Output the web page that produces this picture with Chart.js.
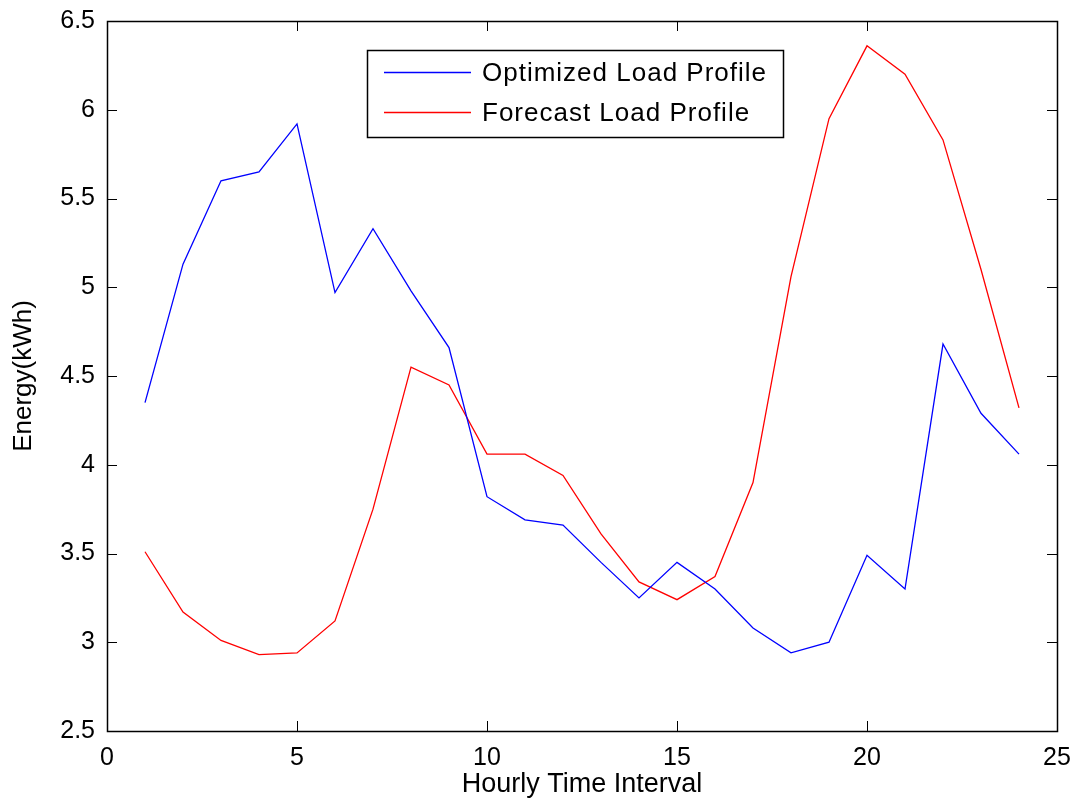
<!DOCTYPE html>
<html>
<head>
<meta charset="utf-8">
<script src="https://cdn.jsdelivr.net/npm/chart.js@4/dist/chart.umd.min.js"></script>
<style>
  html, body { margin: 0; padding: 0; background: #ffffff; }
  canvas { display: block; }
</style>
</head>
<body>
<canvas id="loadChart" width="1085" height="805"></canvas>
<script>
// Hourly intervals and energy per interval (kWh)
const hours = [1, 2, 3, 4, 5, 6, 7, 8, 9, 10, 11, 12, 13, 14, 15, 16, 17, 18, 19, 20, 21, 22, 23, 24];
const optimizedLoad = [4.35, 5.13, 5.60, 5.65, 5.92, 4.97, 5.33, 4.98, 4.66, 3.82, 3.69, 3.66,
                       3.45, 3.25, 3.45, 3.30, 3.08, 2.94, 3.00, 3.49, 3.30, 4.68, 4.29, 4.06];
const forecastLoad  = [3.51, 3.17, 3.01, 2.93, 2.94, 3.12, 3.75, 4.55, 4.45, 4.06, 4.06, 3.94,
                       3.61, 3.34, 3.24, 3.37, 3.90, 5.06, 5.95, 6.36, 6.20, 5.83, 5.10, 4.32];
const seriesNames = ['Optimized Load Profile', 'Forecast Load Profile'];
const seriesColors = ['#0000ff', '#ff0000'];
const xTickValues = [0, 5, 10, 15, 20, 25];
const yTickValues = [2.5, 3, 3.5, 4, 4.5, 5, 5.5, 6, 6.5];
const xTitle = 'Hourly Time Interval';
const yTitle = 'Energy(kWh)';

const FONT = 'Liberation Sans, Arial, Helvetica, sans-serif';

function toPoints(values) {
  return hours.map((h, i) => ({ x: h, y: values[i] }));
}

// Boxed axes with inward tick marks on all four sides, plus a framed legend
const boxedAxes = {
  id: 'boxedAxes',
  afterDatasetsDraw(chart) {
    const { ctx, chartArea: a, scales: { x, y } } = chart;
    const tick = 10;
    ctx.save();
    ctx.strokeStyle = '#000000';
    ctx.lineWidth = 1;
    ctx.beginPath();
    xTickValues.forEach(v => {
      const px = Math.round(x.getPixelForValue(v)) + 0.5;
      ctx.moveTo(px, a.bottom); ctx.lineTo(px, a.bottom - tick);
      ctx.moveTo(px, a.top);    ctx.lineTo(px, a.top + tick);
    });
    yTickValues.forEach(v => {
      const py = Math.round(y.getPixelForValue(v)) + 0.5;
      ctx.moveTo(a.left, py);  ctx.lineTo(a.left + tick, py);
      ctx.moveTo(a.right, py); ctx.lineTo(a.right - tick, py);
    });
    ctx.stroke();
    ctx.lineWidth = 1.5;
    ctx.strokeRect(Math.round(a.left) + 0.5, Math.round(a.top) + 0.5,
                   Math.round(a.right - a.left), Math.round(a.bottom - a.top));

    // legend
    const lx = 367, ly = 50, lw = 416, lh = 87;
    ctx.fillStyle = '#ffffff';
    ctx.fillRect(lx, ly, lw, lh);
    ctx.lineWidth = 1.5;
    ctx.strokeRect(lx + 0.5, ly + 0.5, lw, lh);
    ctx.font = '26px ' + FONT;
    ctx.letterSpacing = '1px';
    ctx.textBaseline = 'middle';
    ctx.textAlign = 'left';
    chart.data.datasets.forEach((ds, i) => {
      const rowY = 72 + i * 40;
      ctx.strokeStyle = ds.borderColor;
      ctx.lineWidth = 1.3;
      ctx.beginPath();
      ctx.moveTo(384, rowY + 0.5);
      ctx.lineTo(471, rowY + 0.5);
      ctx.stroke();
      ctx.fillStyle = '#000000';
      ctx.fillText(ds.label, 482, rowY + 2);
    });
    ctx.restore();
  }
};

new Chart(document.getElementById('loadChart'), {
  type: 'line',
  data: {
    datasets: [
      { label: seriesNames[0], data: toPoints(optimizedLoad), borderColor: seriesColors[0],
        borderWidth: 1.3, pointRadius: 0, tension: 0, fill: false },
      { label: seriesNames[1], data: toPoints(forecastLoad), borderColor: seriesColors[1],
        borderWidth: 1.3, pointRadius: 0, tension: 0, fill: false }
    ]
  },
  options: {
    responsive: false,
    animation: false,
    layout: { padding: { top: 21, right: 28, left: 0, bottom: 0 } },
    plugins: { legend: { display: false }, tooltip: { enabled: false } },
    scales: {
      x: {
        type: 'linear',
        min: 0, max: 25,
        afterBuildTicks: s => { s.ticks = xTickValues.map(v => ({ value: v })); },
        afterFit: s => { s.height = 74; s.paddingLeft = 0; s.paddingRight = 0; },
        grid: { display: false, drawTicks: false },
        border: { display: false },
        ticks: { color: '#000000', padding: 12, font: { family: FONT, size: 25 },
                 maxRotation: 0, callback: v => String(v) },
        title: { display: true, text: xTitle, color: '#000000',
                 font: { family: FONT, size: 27 }, padding: { top: 0, bottom: 4 } }
      },
      y: {
        type: 'linear',
        min: 2.5, max: 6.5,
        afterBuildTicks: s => { s.ticks = yTickValues.map(v => ({ value: v })); },
        afterFit: s => { s.width = 107; s.paddingTop = 0; s.paddingBottom = 0; },
        grid: { display: false, drawTicks: false },
        border: { display: false },
        ticks: { color: '#000000', padding: 12, font: { family: FONT, size: 25 },
                 callback: v => String(v) },
        title: { display: true, text: yTitle, color: '#000000',
                 font: { family: FONT, size: 26 }, padding: { top: 8, bottom: 0 } }
      }
    }
  },
  plugins: [boxedAxes]
});
</script>
</body>
</html>
